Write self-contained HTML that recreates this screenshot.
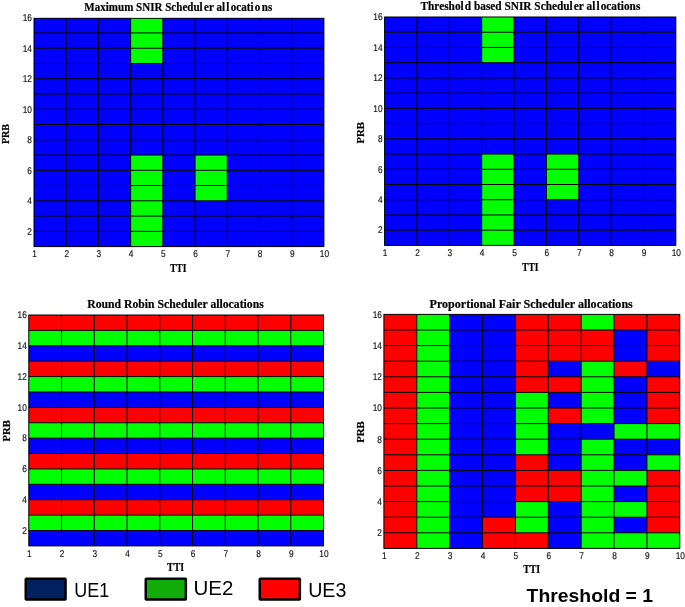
<!DOCTYPE html>
<html><head><meta charset="utf-8"><style>
html,body{margin:0;padding:0;background:#fff;width:685px;height:607px;overflow:hidden}
svg{display:block;will-change:transform}
.tt{font-family:"Liberation Serif",serif;font-weight:bold;fill:#000;stroke:#000;stroke-width:0.2}
.tk{font-family:"Liberation Sans",sans-serif;fill:#111;stroke:#111;stroke-width:0.15;text-rendering:geometricPrecision}
.lg{font-family:"Liberation Sans",sans-serif;fill:#000}
</style></head><body>
<svg width="685" height="607" viewBox="0 0 685 607">

<rect x="34.00" y="17.70" width="32.26" height="15.31" fill="#0000ff"/>
<rect x="66.21" y="17.70" width="32.26" height="15.31" fill="#0000ff"/>
<rect x="98.42" y="17.70" width="32.26" height="15.31" fill="#0000ff"/>
<rect x="130.63" y="17.70" width="32.26" height="15.31" fill="#00ff00"/>
<rect x="162.84" y="17.70" width="32.26" height="15.31" fill="#0000ff"/>
<rect x="195.06" y="17.70" width="32.26" height="15.31" fill="#0000ff"/>
<rect x="227.27" y="17.70" width="32.26" height="15.31" fill="#0000ff"/>
<rect x="259.48" y="17.70" width="32.26" height="15.31" fill="#0000ff"/>
<rect x="291.69" y="17.70" width="32.26" height="15.31" fill="#0000ff"/>
<rect x="34.00" y="32.96" width="32.26" height="15.31" fill="#0000ff"/>
<rect x="66.21" y="32.96" width="32.26" height="15.31" fill="#0000ff"/>
<rect x="98.42" y="32.96" width="32.26" height="15.31" fill="#0000ff"/>
<rect x="130.63" y="32.96" width="32.26" height="15.31" fill="#00ff00"/>
<rect x="162.84" y="32.96" width="32.26" height="15.31" fill="#0000ff"/>
<rect x="195.06" y="32.96" width="32.26" height="15.31" fill="#0000ff"/>
<rect x="227.27" y="32.96" width="32.26" height="15.31" fill="#0000ff"/>
<rect x="259.48" y="32.96" width="32.26" height="15.31" fill="#0000ff"/>
<rect x="291.69" y="32.96" width="32.26" height="15.31" fill="#0000ff"/>
<rect x="34.00" y="48.22" width="32.26" height="15.31" fill="#0000ff"/>
<rect x="66.21" y="48.22" width="32.26" height="15.31" fill="#0000ff"/>
<rect x="98.42" y="48.22" width="32.26" height="15.31" fill="#0000ff"/>
<rect x="130.63" y="48.22" width="32.26" height="15.31" fill="#00ff00"/>
<rect x="162.84" y="48.22" width="32.26" height="15.31" fill="#0000ff"/>
<rect x="195.06" y="48.22" width="32.26" height="15.31" fill="#0000ff"/>
<rect x="227.27" y="48.22" width="32.26" height="15.31" fill="#0000ff"/>
<rect x="259.48" y="48.22" width="32.26" height="15.31" fill="#0000ff"/>
<rect x="291.69" y="48.22" width="32.26" height="15.31" fill="#0000ff"/>
<rect x="34.00" y="63.48" width="32.26" height="15.31" fill="#0000ff"/>
<rect x="66.21" y="63.48" width="32.26" height="15.31" fill="#0000ff"/>
<rect x="98.42" y="63.48" width="32.26" height="15.31" fill="#0000ff"/>
<rect x="130.63" y="63.48" width="32.26" height="15.31" fill="#0000ff"/>
<rect x="162.84" y="63.48" width="32.26" height="15.31" fill="#0000ff"/>
<rect x="195.06" y="63.48" width="32.26" height="15.31" fill="#0000ff"/>
<rect x="227.27" y="63.48" width="32.26" height="15.31" fill="#0000ff"/>
<rect x="259.48" y="63.48" width="32.26" height="15.31" fill="#0000ff"/>
<rect x="291.69" y="63.48" width="32.26" height="15.31" fill="#0000ff"/>
<rect x="34.00" y="78.74" width="32.26" height="15.31" fill="#0000ff"/>
<rect x="66.21" y="78.74" width="32.26" height="15.31" fill="#0000ff"/>
<rect x="98.42" y="78.74" width="32.26" height="15.31" fill="#0000ff"/>
<rect x="130.63" y="78.74" width="32.26" height="15.31" fill="#0000ff"/>
<rect x="162.84" y="78.74" width="32.26" height="15.31" fill="#0000ff"/>
<rect x="195.06" y="78.74" width="32.26" height="15.31" fill="#0000ff"/>
<rect x="227.27" y="78.74" width="32.26" height="15.31" fill="#0000ff"/>
<rect x="259.48" y="78.74" width="32.26" height="15.31" fill="#0000ff"/>
<rect x="291.69" y="78.74" width="32.26" height="15.31" fill="#0000ff"/>
<rect x="34.00" y="94.00" width="32.26" height="15.31" fill="#0000ff"/>
<rect x="66.21" y="94.00" width="32.26" height="15.31" fill="#0000ff"/>
<rect x="98.42" y="94.00" width="32.26" height="15.31" fill="#0000ff"/>
<rect x="130.63" y="94.00" width="32.26" height="15.31" fill="#0000ff"/>
<rect x="162.84" y="94.00" width="32.26" height="15.31" fill="#0000ff"/>
<rect x="195.06" y="94.00" width="32.26" height="15.31" fill="#0000ff"/>
<rect x="227.27" y="94.00" width="32.26" height="15.31" fill="#0000ff"/>
<rect x="259.48" y="94.00" width="32.26" height="15.31" fill="#0000ff"/>
<rect x="291.69" y="94.00" width="32.26" height="15.31" fill="#0000ff"/>
<rect x="34.00" y="109.26" width="32.26" height="15.31" fill="#0000ff"/>
<rect x="66.21" y="109.26" width="32.26" height="15.31" fill="#0000ff"/>
<rect x="98.42" y="109.26" width="32.26" height="15.31" fill="#0000ff"/>
<rect x="130.63" y="109.26" width="32.26" height="15.31" fill="#0000ff"/>
<rect x="162.84" y="109.26" width="32.26" height="15.31" fill="#0000ff"/>
<rect x="195.06" y="109.26" width="32.26" height="15.31" fill="#0000ff"/>
<rect x="227.27" y="109.26" width="32.26" height="15.31" fill="#0000ff"/>
<rect x="259.48" y="109.26" width="32.26" height="15.31" fill="#0000ff"/>
<rect x="291.69" y="109.26" width="32.26" height="15.31" fill="#0000ff"/>
<rect x="34.00" y="124.52" width="32.26" height="15.31" fill="#0000ff"/>
<rect x="66.21" y="124.52" width="32.26" height="15.31" fill="#0000ff"/>
<rect x="98.42" y="124.52" width="32.26" height="15.31" fill="#0000ff"/>
<rect x="130.63" y="124.52" width="32.26" height="15.31" fill="#0000ff"/>
<rect x="162.84" y="124.52" width="32.26" height="15.31" fill="#0000ff"/>
<rect x="195.06" y="124.52" width="32.26" height="15.31" fill="#0000ff"/>
<rect x="227.27" y="124.52" width="32.26" height="15.31" fill="#0000ff"/>
<rect x="259.48" y="124.52" width="32.26" height="15.31" fill="#0000ff"/>
<rect x="291.69" y="124.52" width="32.26" height="15.31" fill="#0000ff"/>
<rect x="34.00" y="139.78" width="32.26" height="15.31" fill="#0000ff"/>
<rect x="66.21" y="139.78" width="32.26" height="15.31" fill="#0000ff"/>
<rect x="98.42" y="139.78" width="32.26" height="15.31" fill="#0000ff"/>
<rect x="130.63" y="139.78" width="32.26" height="15.31" fill="#0000ff"/>
<rect x="162.84" y="139.78" width="32.26" height="15.31" fill="#0000ff"/>
<rect x="195.06" y="139.78" width="32.26" height="15.31" fill="#0000ff"/>
<rect x="227.27" y="139.78" width="32.26" height="15.31" fill="#0000ff"/>
<rect x="259.48" y="139.78" width="32.26" height="15.31" fill="#0000ff"/>
<rect x="291.69" y="139.78" width="32.26" height="15.31" fill="#0000ff"/>
<rect x="34.00" y="155.04" width="32.26" height="15.31" fill="#0000ff"/>
<rect x="66.21" y="155.04" width="32.26" height="15.31" fill="#0000ff"/>
<rect x="98.42" y="155.04" width="32.26" height="15.31" fill="#0000ff"/>
<rect x="130.63" y="155.04" width="32.26" height="15.31" fill="#00ff00"/>
<rect x="162.84" y="155.04" width="32.26" height="15.31" fill="#0000ff"/>
<rect x="195.06" y="155.04" width="32.26" height="15.31" fill="#00ff00"/>
<rect x="227.27" y="155.04" width="32.26" height="15.31" fill="#0000ff"/>
<rect x="259.48" y="155.04" width="32.26" height="15.31" fill="#0000ff"/>
<rect x="291.69" y="155.04" width="32.26" height="15.31" fill="#0000ff"/>
<rect x="34.00" y="170.30" width="32.26" height="15.31" fill="#0000ff"/>
<rect x="66.21" y="170.30" width="32.26" height="15.31" fill="#0000ff"/>
<rect x="98.42" y="170.30" width="32.26" height="15.31" fill="#0000ff"/>
<rect x="130.63" y="170.30" width="32.26" height="15.31" fill="#00ff00"/>
<rect x="162.84" y="170.30" width="32.26" height="15.31" fill="#0000ff"/>
<rect x="195.06" y="170.30" width="32.26" height="15.31" fill="#00ff00"/>
<rect x="227.27" y="170.30" width="32.26" height="15.31" fill="#0000ff"/>
<rect x="259.48" y="170.30" width="32.26" height="15.31" fill="#0000ff"/>
<rect x="291.69" y="170.30" width="32.26" height="15.31" fill="#0000ff"/>
<rect x="34.00" y="185.56" width="32.26" height="15.31" fill="#0000ff"/>
<rect x="66.21" y="185.56" width="32.26" height="15.31" fill="#0000ff"/>
<rect x="98.42" y="185.56" width="32.26" height="15.31" fill="#0000ff"/>
<rect x="130.63" y="185.56" width="32.26" height="15.31" fill="#00ff00"/>
<rect x="162.84" y="185.56" width="32.26" height="15.31" fill="#0000ff"/>
<rect x="195.06" y="185.56" width="32.26" height="15.31" fill="#00ff00"/>
<rect x="227.27" y="185.56" width="32.26" height="15.31" fill="#0000ff"/>
<rect x="259.48" y="185.56" width="32.26" height="15.31" fill="#0000ff"/>
<rect x="291.69" y="185.56" width="32.26" height="15.31" fill="#0000ff"/>
<rect x="34.00" y="200.82" width="32.26" height="15.31" fill="#0000ff"/>
<rect x="66.21" y="200.82" width="32.26" height="15.31" fill="#0000ff"/>
<rect x="98.42" y="200.82" width="32.26" height="15.31" fill="#0000ff"/>
<rect x="130.63" y="200.82" width="32.26" height="15.31" fill="#00ff00"/>
<rect x="162.84" y="200.82" width="32.26" height="15.31" fill="#0000ff"/>
<rect x="195.06" y="200.82" width="32.26" height="15.31" fill="#0000ff"/>
<rect x="227.27" y="200.82" width="32.26" height="15.31" fill="#0000ff"/>
<rect x="259.48" y="200.82" width="32.26" height="15.31" fill="#0000ff"/>
<rect x="291.69" y="200.82" width="32.26" height="15.31" fill="#0000ff"/>
<rect x="34.00" y="216.08" width="32.26" height="15.31" fill="#0000ff"/>
<rect x="66.21" y="216.08" width="32.26" height="15.31" fill="#0000ff"/>
<rect x="98.42" y="216.08" width="32.26" height="15.31" fill="#0000ff"/>
<rect x="130.63" y="216.08" width="32.26" height="15.31" fill="#00ff00"/>
<rect x="162.84" y="216.08" width="32.26" height="15.31" fill="#0000ff"/>
<rect x="195.06" y="216.08" width="32.26" height="15.31" fill="#0000ff"/>
<rect x="227.27" y="216.08" width="32.26" height="15.31" fill="#0000ff"/>
<rect x="259.48" y="216.08" width="32.26" height="15.31" fill="#0000ff"/>
<rect x="291.69" y="216.08" width="32.26" height="15.31" fill="#0000ff"/>
<rect x="34.00" y="231.34" width="32.26" height="15.31" fill="#0000ff"/>
<rect x="66.21" y="231.34" width="32.26" height="15.31" fill="#0000ff"/>
<rect x="98.42" y="231.34" width="32.26" height="15.31" fill="#0000ff"/>
<rect x="130.63" y="231.34" width="32.26" height="15.31" fill="#00ff00"/>
<rect x="162.84" y="231.34" width="32.26" height="15.31" fill="#0000ff"/>
<rect x="195.06" y="231.34" width="32.26" height="15.31" fill="#0000ff"/>
<rect x="227.27" y="231.34" width="32.26" height="15.31" fill="#0000ff"/>
<rect x="259.48" y="231.34" width="32.26" height="15.31" fill="#0000ff"/>
<rect x="291.69" y="231.34" width="32.26" height="15.31" fill="#0000ff"/>
<path d="M66.21 17.70V246.60M98.42 17.70V246.60M130.63 17.70V246.60M162.84 17.70V246.60M195.06 17.70V246.60M227.27 17.70V246.60M259.48 17.70V246.60M291.69 17.70V246.60M34.00 32.96H323.90M34.00 48.22H323.90M34.00 63.48H323.90M34.00 78.74H323.90M34.00 94.00H323.90M34.00 109.26H323.90M34.00 124.52H323.90M34.00 139.78H323.90M34.00 155.04H323.90M34.00 170.30H323.90M34.00 185.56H323.90M34.00 200.82H323.90M34.00 216.08H323.90M34.00 231.34H323.90" stroke="#000" stroke-width="1" fill="none"/>
<rect x="34.00" y="18.30" width="289.90" height="228.30" stroke="#000" stroke-width="1" fill="none"/>
<rect x="33.50" y="17.20" width="290.90" height="0.60" fill="#fff"/>
<text class="tk" transform="translate(32.00 234.64) scale(0.85 1)" font-size="9.8" text-anchor="end">2</text>
<text class="tk" transform="translate(32.00 204.12) scale(0.85 1)" font-size="9.8" text-anchor="end">4</text>
<text class="tk" transform="translate(32.00 173.60) scale(0.85 1)" font-size="9.8" text-anchor="end">6</text>
<text class="tk" transform="translate(32.00 143.08) scale(0.85 1)" font-size="9.8" text-anchor="end">8</text>
<text class="tk" transform="translate(32.00 112.56) scale(0.85 1)" font-size="9.8" text-anchor="end">10</text>
<text class="tk" transform="translate(32.00 82.04) scale(0.85 1)" font-size="9.8" text-anchor="end">12</text>
<text class="tk" transform="translate(32.00 51.52) scale(0.85 1)" font-size="9.8" text-anchor="end">14</text>
<text class="tk" transform="translate(32.00 21.00) scale(0.85 1)" font-size="9.8" text-anchor="end">16</text>
<text class="tk" transform="translate(34.50 257.35) scale(0.85 1)" font-size="9.8" text-anchor="middle">1</text>
<text class="tk" transform="translate(66.71 257.35) scale(0.85 1)" font-size="9.8" text-anchor="middle">2</text>
<text class="tk" transform="translate(98.92 257.35) scale(0.85 1)" font-size="9.8" text-anchor="middle">3</text>
<text class="tk" transform="translate(131.13 257.35) scale(0.85 1)" font-size="9.8" text-anchor="middle">4</text>
<text class="tk" transform="translate(163.34 257.35) scale(0.85 1)" font-size="9.8" text-anchor="middle">5</text>
<text class="tk" transform="translate(195.56 257.35) scale(0.85 1)" font-size="9.8" text-anchor="middle">6</text>
<text class="tk" transform="translate(227.77 257.35) scale(0.85 1)" font-size="9.8" text-anchor="middle">7</text>
<text class="tk" transform="translate(259.98 257.35) scale(0.85 1)" font-size="9.8" text-anchor="middle">8</text>
<text class="tk" transform="translate(292.19 257.35) scale(0.85 1)" font-size="9.8" text-anchor="middle">9</text>
<text class="tk" transform="translate(324.40 257.35) scale(0.85 1)" font-size="9.8" text-anchor="middle">10</text>
<text class="tt" x="84.30" y="11.40" dx="0 0 0 0 0 0 0 0 0 0 0 0 0 0 0 0 0 0 0 0 1.5 0 0 0 0 1.5 1.5 0 0 0 0 1.5 1.5 0" font-size="12" textLength="187.90" lengthAdjust="spacingAndGlyphs">Maximum SNIR Scheduler allocations</text>
<text class="tt" transform="translate(8.95 134.00) rotate(-90)" x="0" y="0" font-size="11" text-anchor="middle" textLength="20.10" lengthAdjust="spacingAndGlyphs">PRB</text>
<text class="tt" x="169.90" y="272.00" font-size="11.5" textLength="16.70" lengthAdjust="spacingAndGlyphs">TTI</text>
<rect x="384.60" y="17.00" width="32.41" height="15.28" fill="#0000ff"/>
<rect x="416.96" y="17.00" width="32.41" height="15.28" fill="#0000ff"/>
<rect x="449.31" y="17.00" width="32.41" height="15.28" fill="#0000ff"/>
<rect x="481.67" y="17.00" width="32.41" height="15.28" fill="#00ff00"/>
<rect x="514.02" y="17.00" width="32.41" height="15.28" fill="#0000ff"/>
<rect x="546.38" y="17.00" width="32.41" height="15.28" fill="#0000ff"/>
<rect x="578.73" y="17.00" width="32.41" height="15.28" fill="#0000ff"/>
<rect x="611.09" y="17.00" width="32.41" height="15.28" fill="#0000ff"/>
<rect x="643.44" y="17.00" width="32.41" height="15.28" fill="#0000ff"/>
<rect x="384.60" y="32.23" width="32.41" height="15.28" fill="#0000ff"/>
<rect x="416.96" y="32.23" width="32.41" height="15.28" fill="#0000ff"/>
<rect x="449.31" y="32.23" width="32.41" height="15.28" fill="#0000ff"/>
<rect x="481.67" y="32.23" width="32.41" height="15.28" fill="#00ff00"/>
<rect x="514.02" y="32.23" width="32.41" height="15.28" fill="#0000ff"/>
<rect x="546.38" y="32.23" width="32.41" height="15.28" fill="#0000ff"/>
<rect x="578.73" y="32.23" width="32.41" height="15.28" fill="#0000ff"/>
<rect x="611.09" y="32.23" width="32.41" height="15.28" fill="#0000ff"/>
<rect x="643.44" y="32.23" width="32.41" height="15.28" fill="#0000ff"/>
<rect x="384.60" y="47.45" width="32.41" height="15.28" fill="#0000ff"/>
<rect x="416.96" y="47.45" width="32.41" height="15.28" fill="#0000ff"/>
<rect x="449.31" y="47.45" width="32.41" height="15.28" fill="#0000ff"/>
<rect x="481.67" y="47.45" width="32.41" height="15.28" fill="#00ff00"/>
<rect x="514.02" y="47.45" width="32.41" height="15.28" fill="#0000ff"/>
<rect x="546.38" y="47.45" width="32.41" height="15.28" fill="#0000ff"/>
<rect x="578.73" y="47.45" width="32.41" height="15.28" fill="#0000ff"/>
<rect x="611.09" y="47.45" width="32.41" height="15.28" fill="#0000ff"/>
<rect x="643.44" y="47.45" width="32.41" height="15.28" fill="#0000ff"/>
<rect x="384.60" y="62.68" width="32.41" height="15.28" fill="#0000ff"/>
<rect x="416.96" y="62.68" width="32.41" height="15.28" fill="#0000ff"/>
<rect x="449.31" y="62.68" width="32.41" height="15.28" fill="#0000ff"/>
<rect x="481.67" y="62.68" width="32.41" height="15.28" fill="#0000ff"/>
<rect x="514.02" y="62.68" width="32.41" height="15.28" fill="#0000ff"/>
<rect x="546.38" y="62.68" width="32.41" height="15.28" fill="#0000ff"/>
<rect x="578.73" y="62.68" width="32.41" height="15.28" fill="#0000ff"/>
<rect x="611.09" y="62.68" width="32.41" height="15.28" fill="#0000ff"/>
<rect x="643.44" y="62.68" width="32.41" height="15.28" fill="#0000ff"/>
<rect x="384.60" y="77.91" width="32.41" height="15.28" fill="#0000ff"/>
<rect x="416.96" y="77.91" width="32.41" height="15.28" fill="#0000ff"/>
<rect x="449.31" y="77.91" width="32.41" height="15.28" fill="#0000ff"/>
<rect x="481.67" y="77.91" width="32.41" height="15.28" fill="#0000ff"/>
<rect x="514.02" y="77.91" width="32.41" height="15.28" fill="#0000ff"/>
<rect x="546.38" y="77.91" width="32.41" height="15.28" fill="#0000ff"/>
<rect x="578.73" y="77.91" width="32.41" height="15.28" fill="#0000ff"/>
<rect x="611.09" y="77.91" width="32.41" height="15.28" fill="#0000ff"/>
<rect x="643.44" y="77.91" width="32.41" height="15.28" fill="#0000ff"/>
<rect x="384.60" y="93.13" width="32.41" height="15.28" fill="#0000ff"/>
<rect x="416.96" y="93.13" width="32.41" height="15.28" fill="#0000ff"/>
<rect x="449.31" y="93.13" width="32.41" height="15.28" fill="#0000ff"/>
<rect x="481.67" y="93.13" width="32.41" height="15.28" fill="#0000ff"/>
<rect x="514.02" y="93.13" width="32.41" height="15.28" fill="#0000ff"/>
<rect x="546.38" y="93.13" width="32.41" height="15.28" fill="#0000ff"/>
<rect x="578.73" y="93.13" width="32.41" height="15.28" fill="#0000ff"/>
<rect x="611.09" y="93.13" width="32.41" height="15.28" fill="#0000ff"/>
<rect x="643.44" y="93.13" width="32.41" height="15.28" fill="#0000ff"/>
<rect x="384.60" y="108.36" width="32.41" height="15.28" fill="#0000ff"/>
<rect x="416.96" y="108.36" width="32.41" height="15.28" fill="#0000ff"/>
<rect x="449.31" y="108.36" width="32.41" height="15.28" fill="#0000ff"/>
<rect x="481.67" y="108.36" width="32.41" height="15.28" fill="#0000ff"/>
<rect x="514.02" y="108.36" width="32.41" height="15.28" fill="#0000ff"/>
<rect x="546.38" y="108.36" width="32.41" height="15.28" fill="#0000ff"/>
<rect x="578.73" y="108.36" width="32.41" height="15.28" fill="#0000ff"/>
<rect x="611.09" y="108.36" width="32.41" height="15.28" fill="#0000ff"/>
<rect x="643.44" y="108.36" width="32.41" height="15.28" fill="#0000ff"/>
<rect x="384.60" y="123.59" width="32.41" height="15.28" fill="#0000ff"/>
<rect x="416.96" y="123.59" width="32.41" height="15.28" fill="#0000ff"/>
<rect x="449.31" y="123.59" width="32.41" height="15.28" fill="#0000ff"/>
<rect x="481.67" y="123.59" width="32.41" height="15.28" fill="#0000ff"/>
<rect x="514.02" y="123.59" width="32.41" height="15.28" fill="#0000ff"/>
<rect x="546.38" y="123.59" width="32.41" height="15.28" fill="#0000ff"/>
<rect x="578.73" y="123.59" width="32.41" height="15.28" fill="#0000ff"/>
<rect x="611.09" y="123.59" width="32.41" height="15.28" fill="#0000ff"/>
<rect x="643.44" y="123.59" width="32.41" height="15.28" fill="#0000ff"/>
<rect x="384.60" y="138.81" width="32.41" height="15.28" fill="#0000ff"/>
<rect x="416.96" y="138.81" width="32.41" height="15.28" fill="#0000ff"/>
<rect x="449.31" y="138.81" width="32.41" height="15.28" fill="#0000ff"/>
<rect x="481.67" y="138.81" width="32.41" height="15.28" fill="#0000ff"/>
<rect x="514.02" y="138.81" width="32.41" height="15.28" fill="#0000ff"/>
<rect x="546.38" y="138.81" width="32.41" height="15.28" fill="#0000ff"/>
<rect x="578.73" y="138.81" width="32.41" height="15.28" fill="#0000ff"/>
<rect x="611.09" y="138.81" width="32.41" height="15.28" fill="#0000ff"/>
<rect x="643.44" y="138.81" width="32.41" height="15.28" fill="#0000ff"/>
<rect x="384.60" y="154.04" width="32.41" height="15.28" fill="#0000ff"/>
<rect x="416.96" y="154.04" width="32.41" height="15.28" fill="#0000ff"/>
<rect x="449.31" y="154.04" width="32.41" height="15.28" fill="#0000ff"/>
<rect x="481.67" y="154.04" width="32.41" height="15.28" fill="#00ff00"/>
<rect x="514.02" y="154.04" width="32.41" height="15.28" fill="#0000ff"/>
<rect x="546.38" y="154.04" width="32.41" height="15.28" fill="#00ff00"/>
<rect x="578.73" y="154.04" width="32.41" height="15.28" fill="#0000ff"/>
<rect x="611.09" y="154.04" width="32.41" height="15.28" fill="#0000ff"/>
<rect x="643.44" y="154.04" width="32.41" height="15.28" fill="#0000ff"/>
<rect x="384.60" y="169.27" width="32.41" height="15.28" fill="#0000ff"/>
<rect x="416.96" y="169.27" width="32.41" height="15.28" fill="#0000ff"/>
<rect x="449.31" y="169.27" width="32.41" height="15.28" fill="#0000ff"/>
<rect x="481.67" y="169.27" width="32.41" height="15.28" fill="#00ff00"/>
<rect x="514.02" y="169.27" width="32.41" height="15.28" fill="#0000ff"/>
<rect x="546.38" y="169.27" width="32.41" height="15.28" fill="#00ff00"/>
<rect x="578.73" y="169.27" width="32.41" height="15.28" fill="#0000ff"/>
<rect x="611.09" y="169.27" width="32.41" height="15.28" fill="#0000ff"/>
<rect x="643.44" y="169.27" width="32.41" height="15.28" fill="#0000ff"/>
<rect x="384.60" y="184.49" width="32.41" height="15.28" fill="#0000ff"/>
<rect x="416.96" y="184.49" width="32.41" height="15.28" fill="#0000ff"/>
<rect x="449.31" y="184.49" width="32.41" height="15.28" fill="#0000ff"/>
<rect x="481.67" y="184.49" width="32.41" height="15.28" fill="#00ff00"/>
<rect x="514.02" y="184.49" width="32.41" height="15.28" fill="#0000ff"/>
<rect x="546.38" y="184.49" width="32.41" height="15.28" fill="#00ff00"/>
<rect x="578.73" y="184.49" width="32.41" height="15.28" fill="#0000ff"/>
<rect x="611.09" y="184.49" width="32.41" height="15.28" fill="#0000ff"/>
<rect x="643.44" y="184.49" width="32.41" height="15.28" fill="#0000ff"/>
<rect x="384.60" y="199.72" width="32.41" height="15.28" fill="#0000ff"/>
<rect x="416.96" y="199.72" width="32.41" height="15.28" fill="#0000ff"/>
<rect x="449.31" y="199.72" width="32.41" height="15.28" fill="#0000ff"/>
<rect x="481.67" y="199.72" width="32.41" height="15.28" fill="#00ff00"/>
<rect x="514.02" y="199.72" width="32.41" height="15.28" fill="#0000ff"/>
<rect x="546.38" y="199.72" width="32.41" height="15.28" fill="#0000ff"/>
<rect x="578.73" y="199.72" width="32.41" height="15.28" fill="#0000ff"/>
<rect x="611.09" y="199.72" width="32.41" height="15.28" fill="#0000ff"/>
<rect x="643.44" y="199.72" width="32.41" height="15.28" fill="#0000ff"/>
<rect x="384.60" y="214.95" width="32.41" height="15.28" fill="#0000ff"/>
<rect x="416.96" y="214.95" width="32.41" height="15.28" fill="#0000ff"/>
<rect x="449.31" y="214.95" width="32.41" height="15.28" fill="#0000ff"/>
<rect x="481.67" y="214.95" width="32.41" height="15.28" fill="#00ff00"/>
<rect x="514.02" y="214.95" width="32.41" height="15.28" fill="#0000ff"/>
<rect x="546.38" y="214.95" width="32.41" height="15.28" fill="#0000ff"/>
<rect x="578.73" y="214.95" width="32.41" height="15.28" fill="#0000ff"/>
<rect x="611.09" y="214.95" width="32.41" height="15.28" fill="#0000ff"/>
<rect x="643.44" y="214.95" width="32.41" height="15.28" fill="#0000ff"/>
<rect x="384.60" y="230.17" width="32.41" height="15.28" fill="#0000ff"/>
<rect x="416.96" y="230.17" width="32.41" height="15.28" fill="#0000ff"/>
<rect x="449.31" y="230.17" width="32.41" height="15.28" fill="#0000ff"/>
<rect x="481.67" y="230.17" width="32.41" height="15.28" fill="#00ff00"/>
<rect x="514.02" y="230.17" width="32.41" height="15.28" fill="#0000ff"/>
<rect x="546.38" y="230.17" width="32.41" height="15.28" fill="#0000ff"/>
<rect x="578.73" y="230.17" width="32.41" height="15.28" fill="#0000ff"/>
<rect x="611.09" y="230.17" width="32.41" height="15.28" fill="#0000ff"/>
<rect x="643.44" y="230.17" width="32.41" height="15.28" fill="#0000ff"/>
<path d="M416.96 17.00V245.40M449.31 17.00V245.40M481.67 17.00V245.40M514.02 17.00V245.40M546.38 17.00V245.40M578.73 17.00V245.40M611.09 17.00V245.40M643.44 17.00V245.40M384.60 32.23H675.80M384.60 47.45H675.80M384.60 62.68H675.80M384.60 77.91H675.80M384.60 93.13H675.80M384.60 108.36H675.80M384.60 123.59H675.80M384.60 138.81H675.80M384.60 154.04H675.80M384.60 169.27H675.80M384.60 184.49H675.80M384.60 199.72H675.80M384.60 214.95H675.80M384.60 230.17H675.80" stroke="#000" stroke-width="1" fill="none"/>
<rect x="384.60" y="17.00" width="291.20" height="228.40" stroke="#000" stroke-width="1" fill="none"/>
<text class="tk" transform="translate(382.60 233.47) scale(0.85 1)" font-size="9.8" text-anchor="end">2</text>
<text class="tk" transform="translate(382.60 203.02) scale(0.85 1)" font-size="9.8" text-anchor="end">4</text>
<text class="tk" transform="translate(382.60 172.57) scale(0.85 1)" font-size="9.8" text-anchor="end">6</text>
<text class="tk" transform="translate(382.60 142.11) scale(0.85 1)" font-size="9.8" text-anchor="end">8</text>
<text class="tk" transform="translate(382.60 111.66) scale(0.85 1)" font-size="9.8" text-anchor="end">10</text>
<text class="tk" transform="translate(382.60 81.21) scale(0.85 1)" font-size="9.8" text-anchor="end">12</text>
<text class="tk" transform="translate(382.60 50.75) scale(0.85 1)" font-size="9.8" text-anchor="end">14</text>
<text class="tk" transform="translate(382.60 20.30) scale(0.85 1)" font-size="9.8" text-anchor="end">16</text>
<text class="tk" transform="translate(385.10 256.15) scale(0.85 1)" font-size="9.8" text-anchor="middle">1</text>
<text class="tk" transform="translate(417.46 256.15) scale(0.85 1)" font-size="9.8" text-anchor="middle">2</text>
<text class="tk" transform="translate(449.81 256.15) scale(0.85 1)" font-size="9.8" text-anchor="middle">3</text>
<text class="tk" transform="translate(482.17 256.15) scale(0.85 1)" font-size="9.8" text-anchor="middle">4</text>
<text class="tk" transform="translate(514.52 256.15) scale(0.85 1)" font-size="9.8" text-anchor="middle">5</text>
<text class="tk" transform="translate(546.88 256.15) scale(0.85 1)" font-size="9.8" text-anchor="middle">6</text>
<text class="tk" transform="translate(579.23 256.15) scale(0.85 1)" font-size="9.8" text-anchor="middle">7</text>
<text class="tk" transform="translate(611.59 256.15) scale(0.85 1)" font-size="9.8" text-anchor="middle">8</text>
<text class="tk" transform="translate(643.94 256.15) scale(0.85 1)" font-size="9.8" text-anchor="middle">9</text>
<text class="tk" transform="translate(676.30 256.15) scale(0.85 1)" font-size="9.8" text-anchor="middle">10</text>
<text class="tt" x="420.50" y="10.15" dx="0 0 0 0 0 0 0 0 1.2 0 0 0 0 0 0 0 0 0 0 0 0 0 0 0 0 0 0 0 1.2 0 0 0 0 1.2 1.2 0 0 0 0 0 0 0" font-size="12.2" textLength="219.80" lengthAdjust="spacingAndGlyphs">Threshold based SNIR Scheduler allocations</text>
<text class="tt" transform="translate(363.50 132.75) rotate(-90)" x="0" y="0" font-size="11" text-anchor="middle" textLength="21.70" lengthAdjust="spacingAndGlyphs">PRB</text>
<text class="tt" x="522.00" y="271.20" font-size="11.5" textLength="16.50" lengthAdjust="spacingAndGlyphs">TTI</text>
<rect x="28.80" y="315.00" width="32.79" height="15.44" fill="#ff0000"/>
<rect x="61.54" y="315.00" width="32.79" height="15.44" fill="#ff0000"/>
<rect x="94.29" y="315.00" width="32.79" height="15.44" fill="#ff0000"/>
<rect x="127.03" y="315.00" width="32.79" height="15.44" fill="#ff0000"/>
<rect x="159.78" y="315.00" width="32.79" height="15.44" fill="#ff0000"/>
<rect x="192.52" y="315.00" width="32.79" height="15.44" fill="#ff0000"/>
<rect x="225.27" y="315.00" width="32.79" height="15.44" fill="#ff0000"/>
<rect x="258.01" y="315.00" width="32.79" height="15.44" fill="#ff0000"/>
<rect x="290.76" y="315.00" width="32.79" height="15.44" fill="#ff0000"/>
<rect x="28.80" y="330.39" width="32.79" height="15.44" fill="#00ff00"/>
<rect x="61.54" y="330.39" width="32.79" height="15.44" fill="#00ff00"/>
<rect x="94.29" y="330.39" width="32.79" height="15.44" fill="#00ff00"/>
<rect x="127.03" y="330.39" width="32.79" height="15.44" fill="#00ff00"/>
<rect x="159.78" y="330.39" width="32.79" height="15.44" fill="#00ff00"/>
<rect x="192.52" y="330.39" width="32.79" height="15.44" fill="#00ff00"/>
<rect x="225.27" y="330.39" width="32.79" height="15.44" fill="#00ff00"/>
<rect x="258.01" y="330.39" width="32.79" height="15.44" fill="#00ff00"/>
<rect x="290.76" y="330.39" width="32.79" height="15.44" fill="#00ff00"/>
<rect x="28.80" y="345.79" width="32.79" height="15.44" fill="#0000ff"/>
<rect x="61.54" y="345.79" width="32.79" height="15.44" fill="#0000ff"/>
<rect x="94.29" y="345.79" width="32.79" height="15.44" fill="#0000ff"/>
<rect x="127.03" y="345.79" width="32.79" height="15.44" fill="#0000ff"/>
<rect x="159.78" y="345.79" width="32.79" height="15.44" fill="#0000ff"/>
<rect x="192.52" y="345.79" width="32.79" height="15.44" fill="#0000ff"/>
<rect x="225.27" y="345.79" width="32.79" height="15.44" fill="#0000ff"/>
<rect x="258.01" y="345.79" width="32.79" height="15.44" fill="#0000ff"/>
<rect x="290.76" y="345.79" width="32.79" height="15.44" fill="#0000ff"/>
<rect x="28.80" y="361.18" width="32.79" height="15.44" fill="#ff0000"/>
<rect x="61.54" y="361.18" width="32.79" height="15.44" fill="#ff0000"/>
<rect x="94.29" y="361.18" width="32.79" height="15.44" fill="#ff0000"/>
<rect x="127.03" y="361.18" width="32.79" height="15.44" fill="#ff0000"/>
<rect x="159.78" y="361.18" width="32.79" height="15.44" fill="#ff0000"/>
<rect x="192.52" y="361.18" width="32.79" height="15.44" fill="#ff0000"/>
<rect x="225.27" y="361.18" width="32.79" height="15.44" fill="#ff0000"/>
<rect x="258.01" y="361.18" width="32.79" height="15.44" fill="#ff0000"/>
<rect x="290.76" y="361.18" width="32.79" height="15.44" fill="#ff0000"/>
<rect x="28.80" y="376.57" width="32.79" height="15.44" fill="#00ff00"/>
<rect x="61.54" y="376.57" width="32.79" height="15.44" fill="#00ff00"/>
<rect x="94.29" y="376.57" width="32.79" height="15.44" fill="#00ff00"/>
<rect x="127.03" y="376.57" width="32.79" height="15.44" fill="#00ff00"/>
<rect x="159.78" y="376.57" width="32.79" height="15.44" fill="#00ff00"/>
<rect x="192.52" y="376.57" width="32.79" height="15.44" fill="#00ff00"/>
<rect x="225.27" y="376.57" width="32.79" height="15.44" fill="#00ff00"/>
<rect x="258.01" y="376.57" width="32.79" height="15.44" fill="#00ff00"/>
<rect x="290.76" y="376.57" width="32.79" height="15.44" fill="#00ff00"/>
<rect x="28.80" y="391.97" width="32.79" height="15.44" fill="#0000ff"/>
<rect x="61.54" y="391.97" width="32.79" height="15.44" fill="#0000ff"/>
<rect x="94.29" y="391.97" width="32.79" height="15.44" fill="#0000ff"/>
<rect x="127.03" y="391.97" width="32.79" height="15.44" fill="#0000ff"/>
<rect x="159.78" y="391.97" width="32.79" height="15.44" fill="#0000ff"/>
<rect x="192.52" y="391.97" width="32.79" height="15.44" fill="#0000ff"/>
<rect x="225.27" y="391.97" width="32.79" height="15.44" fill="#0000ff"/>
<rect x="258.01" y="391.97" width="32.79" height="15.44" fill="#0000ff"/>
<rect x="290.76" y="391.97" width="32.79" height="15.44" fill="#0000ff"/>
<rect x="28.80" y="407.36" width="32.79" height="15.44" fill="#ff0000"/>
<rect x="61.54" y="407.36" width="32.79" height="15.44" fill="#ff0000"/>
<rect x="94.29" y="407.36" width="32.79" height="15.44" fill="#ff0000"/>
<rect x="127.03" y="407.36" width="32.79" height="15.44" fill="#ff0000"/>
<rect x="159.78" y="407.36" width="32.79" height="15.44" fill="#ff0000"/>
<rect x="192.52" y="407.36" width="32.79" height="15.44" fill="#ff0000"/>
<rect x="225.27" y="407.36" width="32.79" height="15.44" fill="#ff0000"/>
<rect x="258.01" y="407.36" width="32.79" height="15.44" fill="#ff0000"/>
<rect x="290.76" y="407.36" width="32.79" height="15.44" fill="#ff0000"/>
<rect x="28.80" y="422.75" width="32.79" height="15.44" fill="#00ff00"/>
<rect x="61.54" y="422.75" width="32.79" height="15.44" fill="#00ff00"/>
<rect x="94.29" y="422.75" width="32.79" height="15.44" fill="#00ff00"/>
<rect x="127.03" y="422.75" width="32.79" height="15.44" fill="#00ff00"/>
<rect x="159.78" y="422.75" width="32.79" height="15.44" fill="#00ff00"/>
<rect x="192.52" y="422.75" width="32.79" height="15.44" fill="#00ff00"/>
<rect x="225.27" y="422.75" width="32.79" height="15.44" fill="#00ff00"/>
<rect x="258.01" y="422.75" width="32.79" height="15.44" fill="#00ff00"/>
<rect x="290.76" y="422.75" width="32.79" height="15.44" fill="#00ff00"/>
<rect x="28.80" y="438.15" width="32.79" height="15.44" fill="#0000ff"/>
<rect x="61.54" y="438.15" width="32.79" height="15.44" fill="#0000ff"/>
<rect x="94.29" y="438.15" width="32.79" height="15.44" fill="#0000ff"/>
<rect x="127.03" y="438.15" width="32.79" height="15.44" fill="#0000ff"/>
<rect x="159.78" y="438.15" width="32.79" height="15.44" fill="#0000ff"/>
<rect x="192.52" y="438.15" width="32.79" height="15.44" fill="#0000ff"/>
<rect x="225.27" y="438.15" width="32.79" height="15.44" fill="#0000ff"/>
<rect x="258.01" y="438.15" width="32.79" height="15.44" fill="#0000ff"/>
<rect x="290.76" y="438.15" width="32.79" height="15.44" fill="#0000ff"/>
<rect x="28.80" y="453.54" width="32.79" height="15.44" fill="#ff0000"/>
<rect x="61.54" y="453.54" width="32.79" height="15.44" fill="#ff0000"/>
<rect x="94.29" y="453.54" width="32.79" height="15.44" fill="#ff0000"/>
<rect x="127.03" y="453.54" width="32.79" height="15.44" fill="#ff0000"/>
<rect x="159.78" y="453.54" width="32.79" height="15.44" fill="#ff0000"/>
<rect x="192.52" y="453.54" width="32.79" height="15.44" fill="#ff0000"/>
<rect x="225.27" y="453.54" width="32.79" height="15.44" fill="#ff0000"/>
<rect x="258.01" y="453.54" width="32.79" height="15.44" fill="#ff0000"/>
<rect x="290.76" y="453.54" width="32.79" height="15.44" fill="#ff0000"/>
<rect x="28.80" y="468.93" width="32.79" height="15.44" fill="#00ff00"/>
<rect x="61.54" y="468.93" width="32.79" height="15.44" fill="#00ff00"/>
<rect x="94.29" y="468.93" width="32.79" height="15.44" fill="#00ff00"/>
<rect x="127.03" y="468.93" width="32.79" height="15.44" fill="#00ff00"/>
<rect x="159.78" y="468.93" width="32.79" height="15.44" fill="#00ff00"/>
<rect x="192.52" y="468.93" width="32.79" height="15.44" fill="#00ff00"/>
<rect x="225.27" y="468.93" width="32.79" height="15.44" fill="#00ff00"/>
<rect x="258.01" y="468.93" width="32.79" height="15.44" fill="#00ff00"/>
<rect x="290.76" y="468.93" width="32.79" height="15.44" fill="#00ff00"/>
<rect x="28.80" y="484.33" width="32.79" height="15.44" fill="#0000ff"/>
<rect x="61.54" y="484.33" width="32.79" height="15.44" fill="#0000ff"/>
<rect x="94.29" y="484.33" width="32.79" height="15.44" fill="#0000ff"/>
<rect x="127.03" y="484.33" width="32.79" height="15.44" fill="#0000ff"/>
<rect x="159.78" y="484.33" width="32.79" height="15.44" fill="#0000ff"/>
<rect x="192.52" y="484.33" width="32.79" height="15.44" fill="#0000ff"/>
<rect x="225.27" y="484.33" width="32.79" height="15.44" fill="#0000ff"/>
<rect x="258.01" y="484.33" width="32.79" height="15.44" fill="#0000ff"/>
<rect x="290.76" y="484.33" width="32.79" height="15.44" fill="#0000ff"/>
<rect x="28.80" y="499.72" width="32.79" height="15.44" fill="#ff0000"/>
<rect x="61.54" y="499.72" width="32.79" height="15.44" fill="#ff0000"/>
<rect x="94.29" y="499.72" width="32.79" height="15.44" fill="#ff0000"/>
<rect x="127.03" y="499.72" width="32.79" height="15.44" fill="#ff0000"/>
<rect x="159.78" y="499.72" width="32.79" height="15.44" fill="#ff0000"/>
<rect x="192.52" y="499.72" width="32.79" height="15.44" fill="#ff0000"/>
<rect x="225.27" y="499.72" width="32.79" height="15.44" fill="#ff0000"/>
<rect x="258.01" y="499.72" width="32.79" height="15.44" fill="#ff0000"/>
<rect x="290.76" y="499.72" width="32.79" height="15.44" fill="#ff0000"/>
<rect x="28.80" y="515.11" width="32.79" height="15.44" fill="#00ff00"/>
<rect x="61.54" y="515.11" width="32.79" height="15.44" fill="#00ff00"/>
<rect x="94.29" y="515.11" width="32.79" height="15.44" fill="#00ff00"/>
<rect x="127.03" y="515.11" width="32.79" height="15.44" fill="#00ff00"/>
<rect x="159.78" y="515.11" width="32.79" height="15.44" fill="#00ff00"/>
<rect x="192.52" y="515.11" width="32.79" height="15.44" fill="#00ff00"/>
<rect x="225.27" y="515.11" width="32.79" height="15.44" fill="#00ff00"/>
<rect x="258.01" y="515.11" width="32.79" height="15.44" fill="#00ff00"/>
<rect x="290.76" y="515.11" width="32.79" height="15.44" fill="#00ff00"/>
<rect x="28.80" y="530.51" width="32.79" height="15.44" fill="#0000ff"/>
<rect x="61.54" y="530.51" width="32.79" height="15.44" fill="#0000ff"/>
<rect x="94.29" y="530.51" width="32.79" height="15.44" fill="#0000ff"/>
<rect x="127.03" y="530.51" width="32.79" height="15.44" fill="#0000ff"/>
<rect x="159.78" y="530.51" width="32.79" height="15.44" fill="#0000ff"/>
<rect x="192.52" y="530.51" width="32.79" height="15.44" fill="#0000ff"/>
<rect x="225.27" y="530.51" width="32.79" height="15.44" fill="#0000ff"/>
<rect x="258.01" y="530.51" width="32.79" height="15.44" fill="#0000ff"/>
<rect x="290.76" y="530.51" width="32.79" height="15.44" fill="#0000ff"/>
<path d="M61.54 315.00V545.90M94.29 315.00V545.90M127.03 315.00V545.90M159.78 315.00V545.90M192.52 315.00V545.90M225.27 315.00V545.90M258.01 315.00V545.90M290.76 315.00V545.90M28.80 330.39H323.50M28.80 345.79H323.50M28.80 361.18H323.50M28.80 376.57H323.50M28.80 391.97H323.50M28.80 407.36H323.50M28.80 422.75H323.50M28.80 438.15H323.50M28.80 453.54H323.50M28.80 468.93H323.50M28.80 484.33H323.50M28.80 499.72H323.50M28.80 515.11H323.50M28.80 530.51H323.50" stroke="#000" stroke-width="1" fill="none"/>
<rect x="28.80" y="315.00" width="294.70" height="230.90" stroke="#000" stroke-width="1" fill="none"/>
<text class="tk" transform="translate(26.80 533.81) scale(0.85 1)" font-size="9.8" text-anchor="end">2</text>
<text class="tk" transform="translate(26.80 503.02) scale(0.85 1)" font-size="9.8" text-anchor="end">4</text>
<text class="tk" transform="translate(26.80 472.23) scale(0.85 1)" font-size="9.8" text-anchor="end">6</text>
<text class="tk" transform="translate(26.80 441.45) scale(0.85 1)" font-size="9.8" text-anchor="end">8</text>
<text class="tk" transform="translate(26.80 410.66) scale(0.85 1)" font-size="9.8" text-anchor="end">10</text>
<text class="tk" transform="translate(26.80 379.87) scale(0.85 1)" font-size="9.8" text-anchor="end">12</text>
<text class="tk" transform="translate(26.80 349.09) scale(0.85 1)" font-size="9.8" text-anchor="end">14</text>
<text class="tk" transform="translate(26.80 318.30) scale(0.85 1)" font-size="9.8" text-anchor="end">16</text>
<text class="tk" transform="translate(29.30 556.65) scale(0.85 1)" font-size="9.8" text-anchor="middle">1</text>
<text class="tk" transform="translate(62.04 556.65) scale(0.85 1)" font-size="9.8" text-anchor="middle">2</text>
<text class="tk" transform="translate(94.79 556.65) scale(0.85 1)" font-size="9.8" text-anchor="middle">3</text>
<text class="tk" transform="translate(127.53 556.65) scale(0.85 1)" font-size="9.8" text-anchor="middle">4</text>
<text class="tk" transform="translate(160.28 556.65) scale(0.85 1)" font-size="9.8" text-anchor="middle">5</text>
<text class="tk" transform="translate(193.02 556.65) scale(0.85 1)" font-size="9.8" text-anchor="middle">6</text>
<text class="tk" transform="translate(225.77 556.65) scale(0.85 1)" font-size="9.8" text-anchor="middle">7</text>
<text class="tk" transform="translate(258.51 556.65) scale(0.85 1)" font-size="9.8" text-anchor="middle">8</text>
<text class="tk" transform="translate(291.26 556.65) scale(0.85 1)" font-size="9.8" text-anchor="middle">9</text>
<text class="tk" transform="translate(324.00 556.65) scale(0.85 1)" font-size="9.8" text-anchor="middle">10</text>
<text class="tt" x="87.20" y="307.90" font-size="12.2" textLength="176.60" lengthAdjust="spacingAndGlyphs">Round Robin Scheduler allocations</text>
<text class="tt" transform="translate(9.75 430.90) rotate(-90)" x="0" y="0" font-size="11" text-anchor="middle" textLength="21.40" lengthAdjust="spacingAndGlyphs">PRB</text>
<text class="tt" x="167.05" y="571.10" font-size="11.5" textLength="17.10" lengthAdjust="spacingAndGlyphs">TTI</text>
<rect x="383.90" y="314.40" width="32.93" height="15.65" fill="#ff0000"/>
<rect x="416.78" y="314.40" width="32.93" height="15.65" fill="#00ff00"/>
<rect x="449.66" y="314.40" width="32.93" height="15.65" fill="#0000ff"/>
<rect x="482.53" y="314.40" width="32.93" height="15.65" fill="#0000ff"/>
<rect x="515.41" y="314.40" width="32.93" height="15.65" fill="#ff0000"/>
<rect x="548.29" y="314.40" width="32.93" height="15.65" fill="#ff0000"/>
<rect x="581.17" y="314.40" width="32.93" height="15.65" fill="#00ff00"/>
<rect x="614.04" y="314.40" width="32.93" height="15.65" fill="#ff0000"/>
<rect x="646.92" y="314.40" width="32.93" height="15.65" fill="#ff0000"/>
<rect x="383.90" y="330.00" width="32.93" height="15.65" fill="#ff0000"/>
<rect x="416.78" y="330.00" width="32.93" height="15.65" fill="#00ff00"/>
<rect x="449.66" y="330.00" width="32.93" height="15.65" fill="#0000ff"/>
<rect x="482.53" y="330.00" width="32.93" height="15.65" fill="#0000ff"/>
<rect x="515.41" y="330.00" width="32.93" height="15.65" fill="#ff0000"/>
<rect x="548.29" y="330.00" width="32.93" height="15.65" fill="#ff0000"/>
<rect x="581.17" y="330.00" width="32.93" height="15.65" fill="#ff0000"/>
<rect x="614.04" y="330.00" width="32.93" height="15.65" fill="#0000ff"/>
<rect x="646.92" y="330.00" width="32.93" height="15.65" fill="#ff0000"/>
<rect x="383.90" y="345.60" width="32.93" height="15.65" fill="#ff0000"/>
<rect x="416.78" y="345.60" width="32.93" height="15.65" fill="#00ff00"/>
<rect x="449.66" y="345.60" width="32.93" height="15.65" fill="#0000ff"/>
<rect x="482.53" y="345.60" width="32.93" height="15.65" fill="#0000ff"/>
<rect x="515.41" y="345.60" width="32.93" height="15.65" fill="#ff0000"/>
<rect x="548.29" y="345.60" width="32.93" height="15.65" fill="#ff0000"/>
<rect x="581.17" y="345.60" width="32.93" height="15.65" fill="#ff0000"/>
<rect x="614.04" y="345.60" width="32.93" height="15.65" fill="#0000ff"/>
<rect x="646.92" y="345.60" width="32.93" height="15.65" fill="#ff0000"/>
<rect x="383.90" y="361.20" width="32.93" height="15.65" fill="#ff0000"/>
<rect x="416.78" y="361.20" width="32.93" height="15.65" fill="#00ff00"/>
<rect x="449.66" y="361.20" width="32.93" height="15.65" fill="#0000ff"/>
<rect x="482.53" y="361.20" width="32.93" height="15.65" fill="#0000ff"/>
<rect x="515.41" y="361.20" width="32.93" height="15.65" fill="#ff0000"/>
<rect x="548.29" y="361.20" width="32.93" height="15.65" fill="#0000ff"/>
<rect x="581.17" y="361.20" width="32.93" height="15.65" fill="#00ff00"/>
<rect x="614.04" y="361.20" width="32.93" height="15.65" fill="#ff0000"/>
<rect x="646.92" y="361.20" width="32.93" height="15.65" fill="#0000ff"/>
<rect x="383.90" y="376.80" width="32.93" height="15.65" fill="#ff0000"/>
<rect x="416.78" y="376.80" width="32.93" height="15.65" fill="#00ff00"/>
<rect x="449.66" y="376.80" width="32.93" height="15.65" fill="#0000ff"/>
<rect x="482.53" y="376.80" width="32.93" height="15.65" fill="#0000ff"/>
<rect x="515.41" y="376.80" width="32.93" height="15.65" fill="#ff0000"/>
<rect x="548.29" y="376.80" width="32.93" height="15.65" fill="#ff0000"/>
<rect x="581.17" y="376.80" width="32.93" height="15.65" fill="#00ff00"/>
<rect x="614.04" y="376.80" width="32.93" height="15.65" fill="#0000ff"/>
<rect x="646.92" y="376.80" width="32.93" height="15.65" fill="#ff0000"/>
<rect x="383.90" y="392.40" width="32.93" height="15.65" fill="#ff0000"/>
<rect x="416.78" y="392.40" width="32.93" height="15.65" fill="#00ff00"/>
<rect x="449.66" y="392.40" width="32.93" height="15.65" fill="#0000ff"/>
<rect x="482.53" y="392.40" width="32.93" height="15.65" fill="#0000ff"/>
<rect x="515.41" y="392.40" width="32.93" height="15.65" fill="#00ff00"/>
<rect x="548.29" y="392.40" width="32.93" height="15.65" fill="#0000ff"/>
<rect x="581.17" y="392.40" width="32.93" height="15.65" fill="#00ff00"/>
<rect x="614.04" y="392.40" width="32.93" height="15.65" fill="#0000ff"/>
<rect x="646.92" y="392.40" width="32.93" height="15.65" fill="#ff0000"/>
<rect x="383.90" y="408.00" width="32.93" height="15.65" fill="#ff0000"/>
<rect x="416.78" y="408.00" width="32.93" height="15.65" fill="#00ff00"/>
<rect x="449.66" y="408.00" width="32.93" height="15.65" fill="#0000ff"/>
<rect x="482.53" y="408.00" width="32.93" height="15.65" fill="#0000ff"/>
<rect x="515.41" y="408.00" width="32.93" height="15.65" fill="#00ff00"/>
<rect x="548.29" y="408.00" width="32.93" height="15.65" fill="#ff0000"/>
<rect x="581.17" y="408.00" width="32.93" height="15.65" fill="#00ff00"/>
<rect x="614.04" y="408.00" width="32.93" height="15.65" fill="#0000ff"/>
<rect x="646.92" y="408.00" width="32.93" height="15.65" fill="#ff0000"/>
<rect x="383.90" y="423.60" width="32.93" height="15.65" fill="#ff0000"/>
<rect x="416.78" y="423.60" width="32.93" height="15.65" fill="#00ff00"/>
<rect x="449.66" y="423.60" width="32.93" height="15.65" fill="#0000ff"/>
<rect x="482.53" y="423.60" width="32.93" height="15.65" fill="#0000ff"/>
<rect x="515.41" y="423.60" width="32.93" height="15.65" fill="#00ff00"/>
<rect x="548.29" y="423.60" width="32.93" height="15.65" fill="#0000ff"/>
<rect x="581.17" y="423.60" width="32.93" height="15.65" fill="#0000ff"/>
<rect x="614.04" y="423.60" width="32.93" height="15.65" fill="#00ff00"/>
<rect x="646.92" y="423.60" width="32.93" height="15.65" fill="#00ff00"/>
<rect x="383.90" y="439.20" width="32.93" height="15.65" fill="#ff0000"/>
<rect x="416.78" y="439.20" width="32.93" height="15.65" fill="#00ff00"/>
<rect x="449.66" y="439.20" width="32.93" height="15.65" fill="#0000ff"/>
<rect x="482.53" y="439.20" width="32.93" height="15.65" fill="#0000ff"/>
<rect x="515.41" y="439.20" width="32.93" height="15.65" fill="#00ff00"/>
<rect x="548.29" y="439.20" width="32.93" height="15.65" fill="#0000ff"/>
<rect x="581.17" y="439.20" width="32.93" height="15.65" fill="#00ff00"/>
<rect x="614.04" y="439.20" width="32.93" height="15.65" fill="#0000ff"/>
<rect x="646.92" y="439.20" width="32.93" height="15.65" fill="#0000ff"/>
<rect x="383.90" y="454.80" width="32.93" height="15.65" fill="#ff0000"/>
<rect x="416.78" y="454.80" width="32.93" height="15.65" fill="#00ff00"/>
<rect x="449.66" y="454.80" width="32.93" height="15.65" fill="#0000ff"/>
<rect x="482.53" y="454.80" width="32.93" height="15.65" fill="#0000ff"/>
<rect x="515.41" y="454.80" width="32.93" height="15.65" fill="#ff0000"/>
<rect x="548.29" y="454.80" width="32.93" height="15.65" fill="#0000ff"/>
<rect x="581.17" y="454.80" width="32.93" height="15.65" fill="#00ff00"/>
<rect x="614.04" y="454.80" width="32.93" height="15.65" fill="#0000ff"/>
<rect x="646.92" y="454.80" width="32.93" height="15.65" fill="#00ff00"/>
<rect x="383.90" y="470.40" width="32.93" height="15.65" fill="#ff0000"/>
<rect x="416.78" y="470.40" width="32.93" height="15.65" fill="#00ff00"/>
<rect x="449.66" y="470.40" width="32.93" height="15.65" fill="#0000ff"/>
<rect x="482.53" y="470.40" width="32.93" height="15.65" fill="#0000ff"/>
<rect x="515.41" y="470.40" width="32.93" height="15.65" fill="#ff0000"/>
<rect x="548.29" y="470.40" width="32.93" height="15.65" fill="#ff0000"/>
<rect x="581.17" y="470.40" width="32.93" height="15.65" fill="#00ff00"/>
<rect x="614.04" y="470.40" width="32.93" height="15.65" fill="#00ff00"/>
<rect x="646.92" y="470.40" width="32.93" height="15.65" fill="#ff0000"/>
<rect x="383.90" y="486.00" width="32.93" height="15.65" fill="#ff0000"/>
<rect x="416.78" y="486.00" width="32.93" height="15.65" fill="#00ff00"/>
<rect x="449.66" y="486.00" width="32.93" height="15.65" fill="#0000ff"/>
<rect x="482.53" y="486.00" width="32.93" height="15.65" fill="#0000ff"/>
<rect x="515.41" y="486.00" width="32.93" height="15.65" fill="#ff0000"/>
<rect x="548.29" y="486.00" width="32.93" height="15.65" fill="#ff0000"/>
<rect x="581.17" y="486.00" width="32.93" height="15.65" fill="#00ff00"/>
<rect x="614.04" y="486.00" width="32.93" height="15.65" fill="#0000ff"/>
<rect x="646.92" y="486.00" width="32.93" height="15.65" fill="#ff0000"/>
<rect x="383.90" y="501.60" width="32.93" height="15.65" fill="#ff0000"/>
<rect x="416.78" y="501.60" width="32.93" height="15.65" fill="#00ff00"/>
<rect x="449.66" y="501.60" width="32.93" height="15.65" fill="#0000ff"/>
<rect x="482.53" y="501.60" width="32.93" height="15.65" fill="#0000ff"/>
<rect x="515.41" y="501.60" width="32.93" height="15.65" fill="#00ff00"/>
<rect x="548.29" y="501.60" width="32.93" height="15.65" fill="#0000ff"/>
<rect x="581.17" y="501.60" width="32.93" height="15.65" fill="#00ff00"/>
<rect x="614.04" y="501.60" width="32.93" height="15.65" fill="#00ff00"/>
<rect x="646.92" y="501.60" width="32.93" height="15.65" fill="#ff0000"/>
<rect x="383.90" y="517.20" width="32.93" height="15.65" fill="#ff0000"/>
<rect x="416.78" y="517.20" width="32.93" height="15.65" fill="#00ff00"/>
<rect x="449.66" y="517.20" width="32.93" height="15.65" fill="#0000ff"/>
<rect x="482.53" y="517.20" width="32.93" height="15.65" fill="#ff0000"/>
<rect x="515.41" y="517.20" width="32.93" height="15.65" fill="#00ff00"/>
<rect x="548.29" y="517.20" width="32.93" height="15.65" fill="#0000ff"/>
<rect x="581.17" y="517.20" width="32.93" height="15.65" fill="#00ff00"/>
<rect x="614.04" y="517.20" width="32.93" height="15.65" fill="#0000ff"/>
<rect x="646.92" y="517.20" width="32.93" height="15.65" fill="#ff0000"/>
<rect x="383.90" y="532.80" width="32.93" height="15.65" fill="#ff0000"/>
<rect x="416.78" y="532.80" width="32.93" height="15.65" fill="#00ff00"/>
<rect x="449.66" y="532.80" width="32.93" height="15.65" fill="#0000ff"/>
<rect x="482.53" y="532.80" width="32.93" height="15.65" fill="#ff0000"/>
<rect x="515.41" y="532.80" width="32.93" height="15.65" fill="#ff0000"/>
<rect x="548.29" y="532.80" width="32.93" height="15.65" fill="#0000ff"/>
<rect x="581.17" y="532.80" width="32.93" height="15.65" fill="#00ff00"/>
<rect x="614.04" y="532.80" width="32.93" height="15.65" fill="#00ff00"/>
<rect x="646.92" y="532.80" width="32.93" height="15.65" fill="#00ff00"/>
<path d="M416.78 314.40V548.40M449.66 314.40V548.40M482.53 314.40V548.40M515.41 314.40V548.40M548.29 314.40V548.40M581.17 314.40V548.40M614.04 314.40V548.40M646.92 314.40V548.40M383.90 330.00H679.80M383.90 345.60H679.80M383.90 361.20H679.80M383.90 376.80H679.80M383.90 392.40H679.80M383.90 408.00H679.80M383.90 423.60H679.80M383.90 439.20H679.80M383.90 454.80H679.80M383.90 470.40H679.80M383.90 486.00H679.80M383.90 501.60H679.80M383.90 517.20H679.80M383.90 532.80H679.80" stroke="#000" stroke-width="1" fill="none"/>
<rect x="383.90" y="314.40" width="295.90" height="234.00" stroke="#000" stroke-width="1" fill="none"/>
<text class="tk" transform="translate(381.90 536.10) scale(0.85 1)" font-size="9.8" text-anchor="end">2</text>
<text class="tk" transform="translate(381.90 504.90) scale(0.85 1)" font-size="9.8" text-anchor="end">4</text>
<text class="tk" transform="translate(381.90 473.70) scale(0.85 1)" font-size="9.8" text-anchor="end">6</text>
<text class="tk" transform="translate(381.90 442.50) scale(0.85 1)" font-size="9.8" text-anchor="end">8</text>
<text class="tk" transform="translate(381.90 411.30) scale(0.85 1)" font-size="9.8" text-anchor="end">10</text>
<text class="tk" transform="translate(381.90 380.10) scale(0.85 1)" font-size="9.8" text-anchor="end">12</text>
<text class="tk" transform="translate(381.90 348.90) scale(0.85 1)" font-size="9.8" text-anchor="end">14</text>
<text class="tk" transform="translate(381.90 317.70) scale(0.85 1)" font-size="9.8" text-anchor="end">16</text>
<text class="tk" transform="translate(384.40 559.15) scale(0.85 1)" font-size="9.8" text-anchor="middle">1</text>
<text class="tk" transform="translate(417.28 559.15) scale(0.85 1)" font-size="9.8" text-anchor="middle">2</text>
<text class="tk" transform="translate(450.16 559.15) scale(0.85 1)" font-size="9.8" text-anchor="middle">3</text>
<text class="tk" transform="translate(483.03 559.15) scale(0.85 1)" font-size="9.8" text-anchor="middle">4</text>
<text class="tk" transform="translate(515.91 559.15) scale(0.85 1)" font-size="9.8" text-anchor="middle">5</text>
<text class="tk" transform="translate(548.79 559.15) scale(0.85 1)" font-size="9.8" text-anchor="middle">6</text>
<text class="tk" transform="translate(581.67 559.15) scale(0.85 1)" font-size="9.8" text-anchor="middle">7</text>
<text class="tk" transform="translate(614.54 559.15) scale(0.85 1)" font-size="9.8" text-anchor="middle">8</text>
<text class="tk" transform="translate(647.42 559.15) scale(0.85 1)" font-size="9.8" text-anchor="middle">9</text>
<text class="tk" transform="translate(680.30 559.15) scale(0.85 1)" font-size="9.8" text-anchor="middle">10</text>
<text class="tt" x="429.60" y="307.70" font-size="12.2" textLength="203.20" lengthAdjust="spacingAndGlyphs">Proportional Fair Scheduler allocations</text>
<text class="tt" transform="translate(363.70 432.00) rotate(-90)" x="0" y="0" font-size="11" text-anchor="middle" textLength="21.60" lengthAdjust="spacingAndGlyphs">PRB</text>
<text class="tt" x="523.15" y="573.00" font-size="11.5" textLength="17.10" lengthAdjust="spacingAndGlyphs">TTI</text>
<rect x="25.75" y="578.85" width="39.80" height="20.60" rx="0.5" fill="#00205f" stroke="#000" stroke-width="2.5"/>
<rect x="145.75" y="578.85" width="40.10" height="20.60" rx="0.5" fill="#12ac08" stroke="#000" stroke-width="2.5"/>
<rect x="259.75" y="578.85" width="40.10" height="20.60" rx="0.5" fill="#fe0000" stroke="#000" stroke-width="2.5"/>
<text class="lg" transform="translate(74.20 596.50) scale(0.876 1)" x="0" y="0" font-size="20.5">UE1</text>
<text class="lg" transform="translate(193.50 595.30) scale(1.000 1)" x="0" y="0" font-size="20.5">UE2</text>
<text class="lg" transform="translate(308.17 596.70) scale(0.959 1)" x="0" y="0" font-size="20.5">UE3</text>
<text class="lg" x="526.6" y="602" font-size="19" font-weight="bold" textLength="126.5" lengthAdjust="spacingAndGlyphs">Threshold = 1</text>
</svg></body></html>
